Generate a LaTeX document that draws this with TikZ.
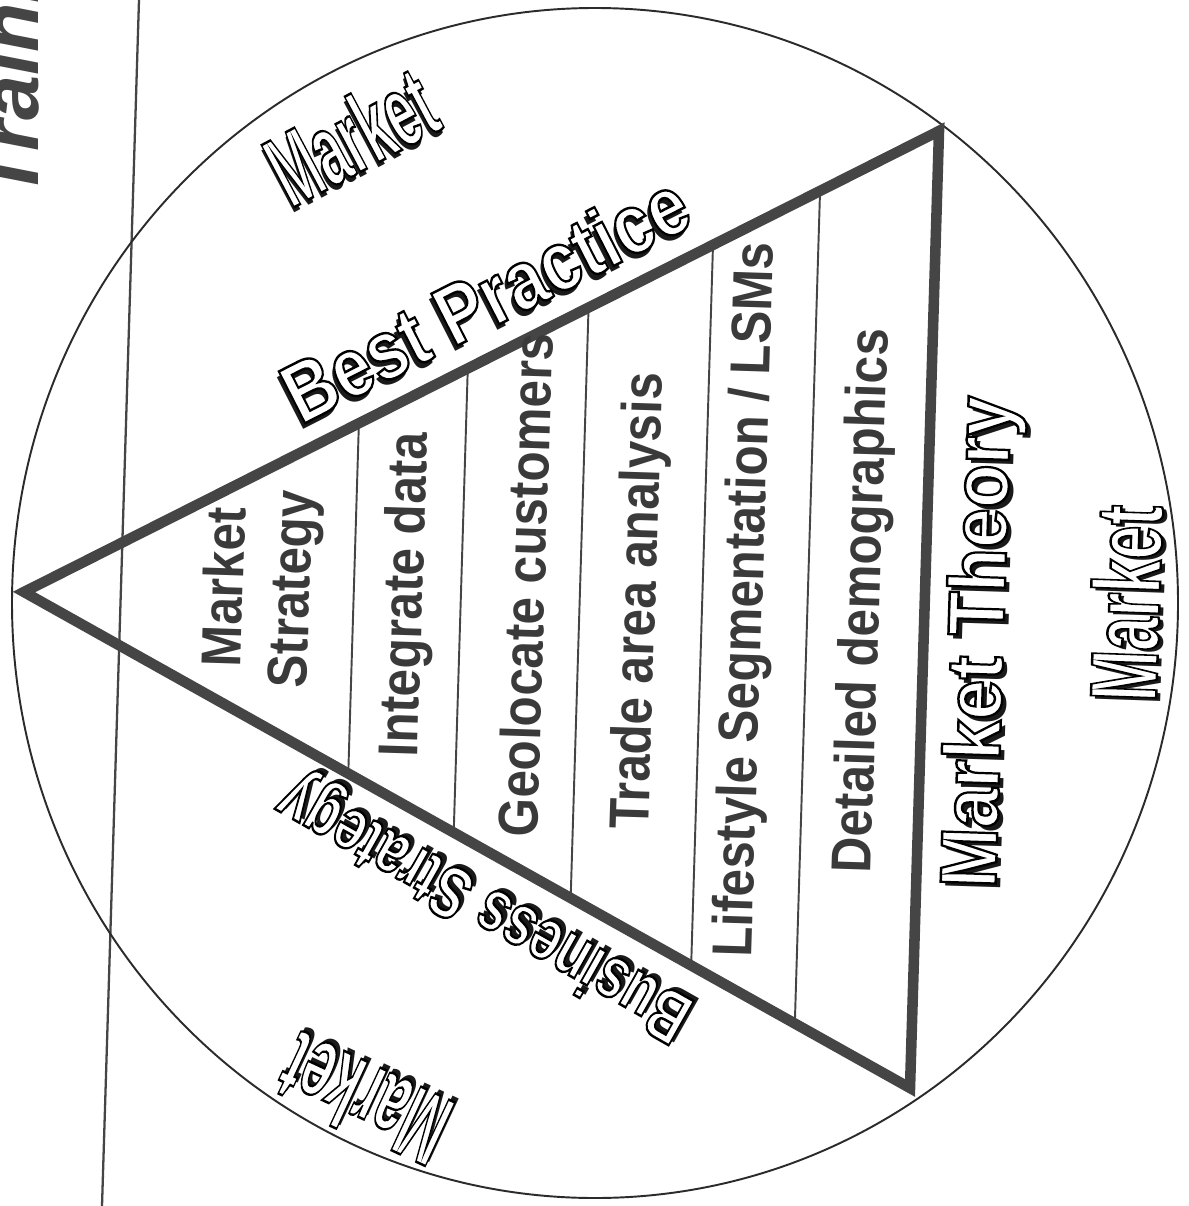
\documentclass[tikz,border=0pt]{standalone}
\usepackage{fontspec}
\setmainfont{Liberation Sans}
\usetikzlibrary{calc}

\definecolor{inkgray}{HTML}{454545}
\definecolor{labelgray}{HTML}{3A3A3A}
\definecolor{rimgray}{HTML}{2B2B2B}
\definecolor{shadowgray}{HTML}{1A1A1A}

% hollow word (white fill, black stroke) over a dark drop shadow
\newcommand{\hollow}[1]{\special{pdf:literal direct 2 Tr 1.4 w 1 g 0 G}#1\special{pdf:literal direct 0 Tr 0 g 0 G}}
\newcommand{\outlined}[1]{\makebox[0pt][l]{\hspace*{-2.8pt}\raisebox{-2.8pt}{\textcolor{shadowgray}{#1}}}\textcolor{black}{\hollow{#1}}}

\begin{document}
\begin{tikzpicture}[x=0.02cm, y=-0.02cm,
  tri/.style={draw=inkgray, line width=6pt, line join=miter},
  divider/.style={draw=inkgray, line width=1.1pt},
  rim/.style={draw=rimgray, line width=1.1pt},
  lbl/.style={font=\fontsize{32}{38}\selectfont\bfseries, text=labelgray, rotate=88.2, xscale=0.88, inner sep=0pt, align=center},
  wordart/.style={inner sep=0pt}]
\useasboundingbox (0,0) rectangle (1189,1206);
\clip (0,0) rectangle (1189,1206);

% cut-off title
\node[rotate=90, anchor=base west, inner sep=0pt, text=inkgray, font=\fontsize{46}{48}\selectfont\bfseries\itshape] (title) at (38,200) {Training};

\draw[draw=inkgray, line width=1.3pt] (139,0) -- (102,1206);
\draw[rim] (595,603) ellipse [x radius=583, y radius=595];

% the triangle
\coordinate (apex) at (24,592);
\coordinate (top) at (939,131);
\coordinate (bot) at (910,1088);
\draw[tri] (apex) -- (top) -- (bot) -- cycle;
\draw[divider] ($(apex)!0.366!(top)$) -- ($(apex)!0.366!(bot)$);
\draw[divider] ($(apex)!0.485!(top)$) -- ($(apex)!0.485!(bot)$);
\draw[divider] ($(apex)!0.617!(top)$) -- ($(apex)!0.617!(bot)$);
\draw[divider] ($(apex)!0.753!(top)$) -- ($(apex)!0.753!(bot)$);
\draw[divider] ($(apex)!0.870!(top)$) -- ($(apex)!0.870!(bot)$);

% steps
\node[lbl] (mstrat) at (262,588) {Market\\Strategy};
\node[lbl] (integ) at (408,595) {Integrate data};
\node[lbl] (geo) at (525,585) {Geolocate customers};
\node[lbl] (trade) at (641,601) {Trade area analysis};
\node[lbl] (life) at (748,600) {Lifestyle Segmentation / LSMs};
\node[lbl] (demo) at (865,601) {Detailed demographics};

% outlined words
\node[wordart, rotate=28, xscale=0.53, font=\fontsize{58}{60}\selectfont\bfseries] (mkttop) at (352,138) {\outlined{Market}};
\node[wordart, rotate=27, xscale=0.83, font=\fontsize{48}{50}\selectfont\bfseries] (best) at (486,300) {\outlined{Best Practice}};
\node[wordart, rotate=150.5, xscale=0.72, font=\fontsize{42}{44}\selectfont\bfseries] (bizstrat) at (487,903) {\outlined{Business Strategy}};
\node[wordart, rotate=155, xscale=0.53, font=\fontsize{58}{60}\selectfont\bfseries] (mktbot) at (365,1098) {\outlined{Market}};
\node[wordart, rotate=88.2, xscale=0.90, font=\fontsize{45.5}{46}\selectfont\bfseries] (theory) at (985,642) {\outlined{Market Theory}};
\node[wordart, rotate=88, xscale=0.64, font=\fontsize{54}{55}\selectfont\bfseries] (mktright) at (1128,603) {\outlined{Market}};
\end{tikzpicture}
\end{document}
